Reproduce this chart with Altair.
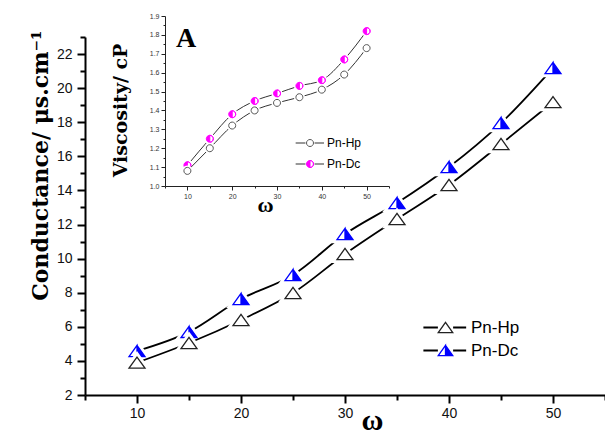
import altair as alt
import pandas as pd

# ---------------- data ----------------
omega = [10, 15, 20, 25, 30, 35, 40, 45, 50]
series = ["Pn-Hp", "Pn-Dc"]
cond_hp = [3.9, 5.05, 6.4, 7.98, 10.27, 12.32, 14.32, 16.72, 19.18]
cond_dc = [4.58, 5.7, 7.63, 9.04, 11.44, 13.26, 15.37, 17.95, 21.18]
visc_hp = [1.08, 1.20, 1.32, 1.40, 1.44, 1.47, 1.51, 1.59, 1.73]
visc_dc = [1.11, 1.25, 1.38, 1.45, 1.49, 1.53, 1.56, 1.67, 1.82]

main_x_ticks = [5, 10, 15, 20, 25, 30, 35, 40, 45, 50, 55]
main_y_ticks = [2, 3, 4, 5, 6, 7, 8, 9, 10, 11, 12, 13, 14, 15, 16, 17, 18, 19, 20, 21, 22, 23]
inset_x_ticks = [5, 10, 15, 20, 25, 30, 35, 40, 45, 50, 55]
inset_y_ticks = [1.0, 1.05, 1.1, 1.15, 1.2, 1.25, 1.3, 1.35, 1.4, 1.45, 1.5, 1.55,
                 1.6, 1.65, 1.7, 1.75, 1.8, 1.85, 1.9]

main_df = pd.DataFrame({
    "omega": omega * 2,
    "value": cond_hp + cond_dc,
    "series": [series[0]] * len(omega) + [series[1]] * len(omega),
})
inset_df = pd.DataFrame({
    "omega": omega * 2,
    "value": visc_hp + visc_dc,
    "series": [series[0]] * len(omega) + [series[1]] * len(omega),
})

# ---------------- symbol paths ----------------
TRI = "M0,-0.7L1,0.7L-1,0.7Z"
TRI_HALF = "M0,-0.7L1,0.7L-1,0.7ZM0,-0.7L-1,0.7L0,0.7Z"
CIRC = "M0,-1A1,1,0,1,1,0,1A1,1,0,1,1,0,-1Z"
CIRC_HALF = CIRC + "M0,-1L0,1A1,1,0,0,0,0,-1Z"
MAIN_LINE_SYM = "M-3.05,0H-1.05M1.05,0H2.85"
INSET_LINE_SYM = "M-4.1,0H-1.3M1.3,0H4.0"

# ---------------- main chart ----------------
main_x = alt.X(
    "omega:Q",
    scale=alt.Scale(domain=[5, 55], nice=False, zero=False),
    axis=alt.Axis(
        values=main_x_ticks,
        labelExpr="datum.value % 10 == 0 ? datum.label : ''",
        tickSize={"condition": {"test": "datum.value % 10 == 0", "value": 8}, "value": 5},
        grid=False, domainColor="black", domainWidth=2, tickColor="black", tickWidth=2,
        labelFont="Liberation Sans", labelFontSize=14, labelColor="#111",
        labelPadding=3, labelOverlap=False, labelFlush=False,
        title="ω", titleFont="Liberation Serif", titleFontSize=30, titleFontWeight="bold",
        titleX=287, titleY=25, titleBaseline="middle", titleColor="black",
    ),
)
main_y = alt.Y(
    "value:Q",
    scale=alt.Scale(domain=[2, 23], nice=False, zero=False),
    axis=alt.Axis(
        values=main_y_ticks,
        labelExpr="datum.value % 2 == 0 ? datum.label : ''",
        tickSize={"condition": {"test": "datum.value % 2 == 0", "value": 8}, "value": 5},
        grid=False, domainColor="black", domainWidth=2, tickColor="black", tickWidth=2,
        labelFont="Liberation Sans", labelFontSize=14, labelColor="#111",
        labelPadding=5, labelOverlap=False, labelFlush=False,
        title="Conductance/ μs.cm⁻¹", titleFont="DejaVu Serif", titleFontSize=22,
        titleFontWeight="bold", titleAngle=-90, titleX=-45, titleY=128,
        titleBaseline="middle", titleAlign="center", titleColor="black",
    ),
)

main_line_legend = alt.Legend(
    orient="none", legendX=352, legendY=282, title=None, symbolType=MAIN_LINE_SYM,
    symbolSize=210, symbolStrokeWidth=1.8, labelFontSize=17, labelFont="Liberation Sans",
    labelOffset=17, labelOpacity=0, rowPadding=5, padding=0,
)
main_pt_legend = alt.Legend(
    orient="none", legendX=352, legendY=282, title=None,
    symbolSize=210, symbolStrokeWidth=1.3, labelFontSize=17, labelFont="Liberation Sans",
    labelColor="black", labelOffset=17, rowPadding=5, padding=0,
)

main_color = alt.Color("series:N", sort=series,
                       scale=alt.Scale(range=["black", "black"]), legend=main_line_legend)
main_shape = alt.Shape("series:N", scale=alt.Scale(domain=series, range=[TRI, TRI_HALF]),
                       legend=main_pt_legend)
main_stroke = alt.Stroke("series:N", scale=alt.Scale(domain=series, range=["#222222", "#0000ff"]),
                         legend=main_pt_legend)
main_fill = alt.Fill("series:N", scale=alt.Scale(domain=series, range=["white", "#0000ff"]),
                     legend=main_pt_legend)

main_base = alt.Chart(main_df)
main_layers = []
for s in [series[1], series[0]]:
    b = main_base.transform_filter(alt.datum.series == s)
    main_layers.append(
        b.mark_line(interpolate="monotone", strokeWidth=1.8).encode(x=main_x, y=main_y, color=main_color)
    )
    main_layers.append(
        b.mark_point(shape=TRI, size=256, fill="white", stroke="white", strokeWidth=7, opacity=1)
        .encode(x=main_x, y=main_y)
    )
    main_layers.append(
        b.mark_point(size=256, strokeWidth=1.3, opacity=1)
        .encode(x=main_x, y=main_y, shape=main_shape, stroke=main_stroke, fill=main_fill)
    )
main = alt.layer(*main_layers)

# ---------------- inset ----------------
inset_x = alt.X(
    "omega:Q",
    scale=alt.Scale(domain=[5, 55], range=[80, 304], nice=False, zero=False),
    axis=alt.Axis(
        orient="bottom", offset=-209,
        values=inset_x_ticks,
        labelExpr="datum.value % 10 == 0 ? datum.label : ''",
        tickSize={"condition": {"test": "datum.value % 10 == 0", "value": 4}, "value": 2},
        grid=False, domainColor="#222", domainWidth=1, tickColor="#222", tickWidth=1,
        labelFont="Liberation Sans", labelFontSize=7, labelColor="#333",
        labelPadding=2, labelOverlap=False, labelFlush=False,
        title="ω", titleFont="Liberation Serif", titleFontSize=22, titleFontWeight="bold",
        titleX=180, titleY=18, titleBaseline="middle", titleColor="black",
    ),
)
inset_y = alt.Y(
    "value:Q",
    scale=alt.Scale(domain=[1.0, 1.9], range=[149, -21], nice=False, zero=False),
    axis=alt.Axis(
        orient="left", offset=-80,
        values=inset_y_ticks,
        labelExpr="round(datum.value * 20) % 2 == 0 ? format(datum.value, '.1f') : ''",
        tickSize={"condition": {"test": "round(datum.value * 20) % 2 == 0", "value": 4}, "value": 2},
        grid=False, domainColor="#222", domainWidth=1, tickColor="#222", tickWidth=1,
        labelFont="Liberation Sans", labelFontSize=7, labelColor="#333",
        labelPadding=2, labelOverlap=False, labelFlush=False,
        title="Viscosity/ cP", titleFont="DejaVu Serif", titleFontSize=19,
        titleFontWeight="bold", titleAngle=-90, titleX=-45, titleY=73,
        titleBaseline="middle", titleAlign="center", titleColor="black",
    ),
)

inset_line_legend = alt.Legend(
    orient="none", legendX=219, legendY=100, title=None, symbolType=INSET_LINE_SYM,
    symbolSize=49, symbolStrokeWidth=1.2, labelFontSize=12, labelFont="Liberation Sans",
    labelOffset=11, labelOpacity=0, rowPadding=9, padding=0,
)
inset_pt_legend = alt.Legend(
    orient="none", legendX=219, legendY=100, title=None,
    symbolSize=49, symbolStrokeWidth=1, labelFontSize=12, labelFont="Liberation Sans",
    labelColor="black", labelOffset=11, rowPadding=9, padding=0,
)

inset_color = alt.Color("series:N", sort=series,
                        scale=alt.Scale(range=["#333333", "#333333"]), legend=inset_line_legend)
inset_shape = alt.Shape("series:N", scale=alt.Scale(domain=series, range=[CIRC, CIRC_HALF]),
                        legend=inset_pt_legend)
inset_stroke = alt.Stroke("series:N", scale=alt.Scale(domain=series, range=["#555555", "#ff00ff"]),
                          legend=inset_pt_legend)
inset_fill = alt.Fill("series:N", scale=alt.Scale(domain=series, range=["white", "#ff00ff"]),
                      legend=inset_pt_legend)

inset_base = alt.Chart(inset_df)
inset_layers = []
for s in [series[1], series[0]]:
    b = inset_base.transform_filter(alt.datum.series == s)
    inset_layers.append(
        b.mark_line(interpolate="monotone", strokeWidth=1).encode(x=inset_x, y=inset_y, color=inset_color)
    )
    inset_layers.append(
        b.mark_point(shape=CIRC, size=49, fill="white", stroke="white", strokeWidth=4, opacity=1)
        .encode(x=inset_x, y=inset_y)
    )
    inset_layers.append(
        b.mark_point(size=49, strokeWidth=1, opacity=1)
        .encode(x=inset_x, y=inset_y, shape=inset_shape, stroke=inset_stroke, fill=inset_fill)
    )
inset = alt.layer(*inset_layers)

label_a = alt.Chart(pd.DataFrame({"label": ["A"]})).mark_text(
    font="Liberation Serif", fontSize=28, fontWeight="bold", color="black",
    align="center", baseline="middle",
).encode(text="label:N", x=alt.value(101), y=alt.value(2))

chart = (
    alt.layer(main, inset, label_a)
    .resolve_scale(x="independent", y="independent", color="independent",
                   shape="independent", stroke="independent", fill="independent")
    .properties(width=520, height=358,
                padding={"left": 85, "top": 37, "right": 0, "bottom": 42},
                autosize=alt.AutoSizeParams(type="none"))
    .configure_view(stroke=None)
)

chart.save("out.html", embed_options={"renderer": "svg", "actions": False})
